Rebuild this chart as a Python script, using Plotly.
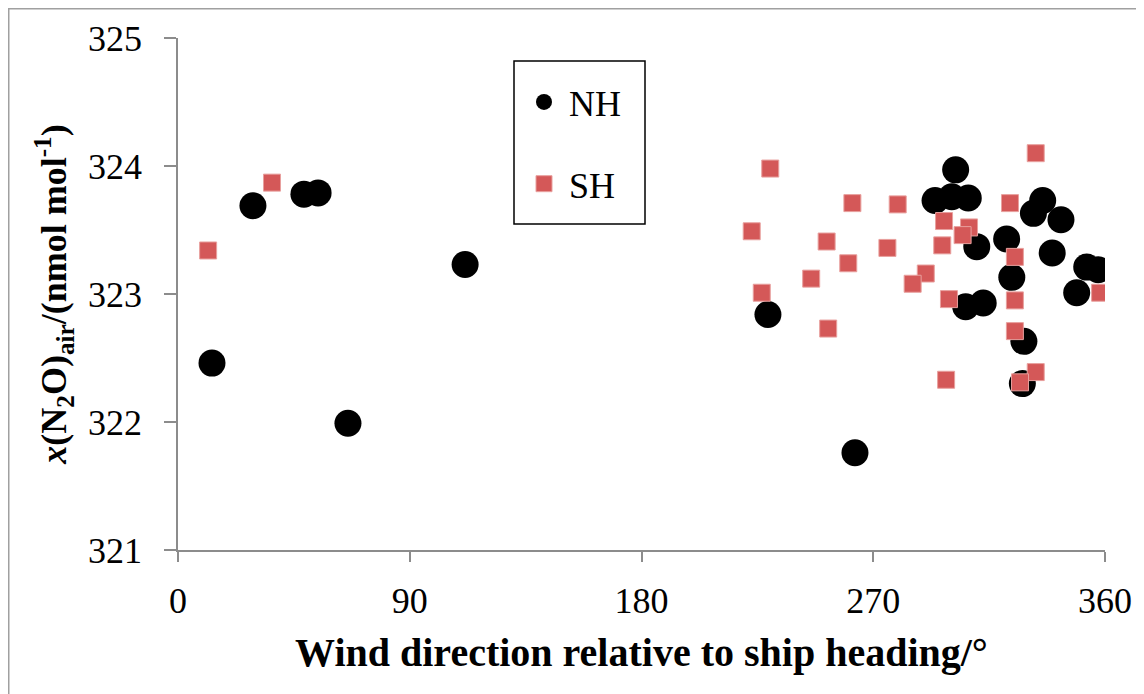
import plotly.graph_objects as go

# Wind direction relative to ship heading (deg) and x(N2O)air (nmol/mol)
nh_dir = [13.2, 29.1, 48.9, 54.4, 66.0, 111.5, 229.1, 262.9,
          302.0, 294.0, 300.5, 306.9, 310.2, 305.9, 312.7, 321.8,
          323.8, 328.5, 327.9, 335.8, 332.2, 342.9, 339.5, 352.9,
          357.4, 349.0]
nh_n2o = [322.46, 323.69, 323.78, 323.79, 321.99, 323.23, 322.84, 321.76,
          323.97, 323.73, 323.76, 323.75, 323.37, 322.90, 322.93, 323.43,
          323.13, 322.63, 322.30, 323.73, 323.63, 323.58, 323.32, 323.21,
          323.19, 323.01]

sh_dir = [11.7, 36.5, 230.0, 261.9, 279.5, 222.8, 251.9, 275.5,
          260.3, 245.9, 226.7, 252.5, 333.1, 323.1, 297.5, 307.2,
          304.7, 296.8, 325.0, 290.4, 285.3, 299.4, 325.0, 358.1,
          325.0, 298.3, 333.1, 327.0]
sh_n2o = [323.34, 323.87, 323.98, 323.71, 323.70, 323.49, 323.41, 323.36,
          323.24, 323.12, 323.01, 322.73, 324.10, 323.71, 323.57, 323.52,
          323.46, 323.38, 323.29, 323.16, 323.08, 322.96, 322.95, 323.01,
          322.71, 322.33, 322.39, 322.31]

x_ticks = [0, 90, 180, 270, 360]
y_ticks = [321, 322, 323, 324, 325]

FONT = "Liberation Serif, Times New Roman, serif"

fig = go.Figure()
fig.add_trace(go.Scatter(
    x=nh_dir, y=nh_n2o, mode="markers", name="NH", legendgroup="a",
    marker=dict(symbol="circle", size=27, color="black"),
))
fig.add_trace(go.Scatter(
    x=sh_dir, y=sh_n2o, mode="markers", name="SH", legendgroup="b",
    marker=dict(symbol="square", size=17, color="#D45858",
                line=dict(color="#E8A09E", width=1)),
))

# page is offset by the 8px body margin, so the figure is 8px smaller
W, H = 1136, 686
L, R, T, B = 170, 1097, 30, 542
PW, PH = R - L, B - T

def px(xf):
    return (xf - L) / PW

def py(yf):
    return (B - yf) / PH

fig.update_layout(
    width=W, height=H,
    margin=dict(l=L, r=W - R, t=T, b=H - B),
    paper_bgcolor="white", plot_bgcolor="white",
    font=dict(family=FONT, size=36, color="black"),
    showlegend=True,
    legend=dict(
        x=px(511), y=py(64),
        xanchor="left", yanchor="top",
        bgcolor="rgba(0,0,0,0)", borderwidth=0,
        font=dict(family=FONT, size=36, color="black"),
        tracegroupgap=32, itemwidth=40,
    ),
    xaxis=dict(
        range=[0, 360], tickvals=x_ticks, ticktext=[str(v) for v in x_ticks],
        showline=True, linecolor="#8c8c8c", linewidth=1.5,
        ticks="outside", ticklen=10, tickcolor="#8c8c8c", tickwidth=1.5,
        showgrid=False, zeroline=False, ticklabelstandoff=8,
        tickfont=dict(family=FONT, size=36),
        title=dict(text="<b>Wind direction relative to ship heading/°</b>",
                   font=dict(family=FONT, size=40), standoff=18),
    ),
    yaxis=dict(
        range=[321, 325], tickvals=y_ticks, ticktext=[str(v) for v in y_ticks],
        showline=True, linecolor="#8c8c8c", linewidth=1.5,
        ticks="outside", ticklen=12, tickcolor="#8c8c8c", tickwidth=1.5,
        showgrid=False, zeroline=False, ticklabelstandoff=15,
        tickfont=dict(family=FONT, size=36),
        title=dict(text="<b><i>x</i>(N<sub>2</sub>O)<sub>air</sub>/(nmol mol<sup>-1</sup>)</b>",
                   font=dict(family=FONT, size=36), standoff=10),
    ),
)

# outer chart border (top and left edges visible)
fig.add_shape(type="rect", xref="paper", yref="paper",
              x0=px(0.75), x1=1.2, y0=-0.5, y1=py(0.75),
              line=dict(color="#a0a0a0", width=1.5), layer="below")

# legend frame
fig.add_shape(type="rect", xref="paper", yref="paper",
              x0=px(506), x1=px(637), y0=py(216), y1=py(53),
              line=dict(color="black", width=1.5), fillcolor="white",
              layer="above")

fig.write_html("out.html")
